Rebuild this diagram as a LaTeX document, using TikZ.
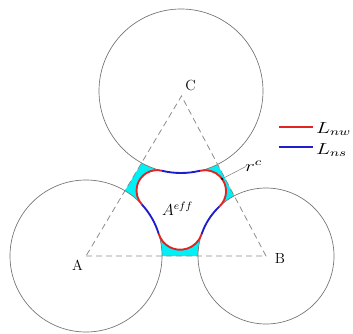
\documentclass[tikz,border=0pt]{standalone}
\usepackage{tikz}
\usepackage{graphicx}
% corner disk tangent to two grains: #1 prefix, #2,#3 centre 1, #4 R1, #5,#6 centre 2, #7 R2, #8 corner radius
\newcommand\cornerpt[8]{%
  \pgfmathsetmacro\cpdx{#5-#2}%
  \pgfmathsetmacro\cpdy{#6-#3}%
  \pgfmathsetmacro\cpD{sqrt(\cpdx*\cpdx+\cpdy*\cpdy)}%
  \pgfmathsetmacro\cpda{#4+#8}%
  \pgfmathsetmacro\cpdb{#7+#8}%
  \pgfmathsetmacro\cpa{(\cpda*\cpda-\cpdb*\cpdb+\cpD*\cpD)/(2*\cpD)}%
  \pgfmathsetmacro\cph{sqrt(\cpda*\cpda-\cpa*\cpa)}%
  \pgfmathsetmacro\cpux{\cpdx/\cpD}%
  \pgfmathsetmacro\cpuy{\cpdy/\cpD}%
  \pgfmathsetmacro\cpx{#2+\cpa*\cpux-\cph*\cpuy}%
  \pgfmathsetmacro\cpy{#3+\cpa*\cpuy+\cph*\cpux}%
  \pgfmathsetmacro\cps{atan2(#3-\cpy,#2-\cpx)}%
  \pgfmathsetmacro\cpe{atan2(#6-\cpy,#5-\cpx)}%
  \pgfmathsetmacro\cpE{\cps+mod(\cpe-\cps+720,360)}%
  \expandafter\let\csname #1x\endcsname\cpx
  \expandafter\let\csname #1y\endcsname\cpy
  \expandafter\let\csname #1s\endcsname\cps
  \expandafter\let\csname #1e\endcsname\cpE
  \expandafter\let\csname #1p\endcsname\cpe
  \expandafter\def\csname #1r\endcsname{#8}%
}
\cornerpt{zab}{0.86}{0.77}{0.76}{2.66}{0.77}{0.68}{0.225}
\cornerpt{zbc}{2.66}{0.77}{0.68}{1.81}{2.42}{0.82}{0.21}
\cornerpt{zca}{1.81}{2.42}{0.82}{0.86}{0.77}{0.76}{0.205}
\pgfmathsetmacro\gbs{\zabp+180}
\pgfmathsetmacro\gbe{\gbs-mod(\gbs-\zbcs-180+720,360)}
\pgfmathsetmacro\gcs{\zbcp+180}
\pgfmathsetmacro\gce{\gcs-mod(\gcs-\zcas-180+720,360)}
\pgfmathsetmacro\gas{\zcap+180}
\pgfmathsetmacro\gae{\gas-mod(\gas-\zabs-180+720,360)}
\newcommand\widemath[1]{\scalebox{1.32}[1]{$#1$}}
\definecolor{poreCyan}{RGB}{0,240,245}
\definecolor{nwRed}{RGB}{225,35,35}
\definecolor{nsBlue}{RGB}{30,30,205}
\tikzset{
  grain/.style={draw=black!55, line width=0.5pt, fill=white},
  tri/.style={draw=black!45, line width=0.6pt, dash pattern=on 4.5pt off 3pt},
  nwline/.style={draw=nwRed, line width=1.4pt},
  nsline/.style={draw=nsBlue, line width=1.4pt},
  lbl/.style={inner sep=1pt, font=\fontsize{11}{13}\selectfont},
  mlbl/.style={inner sep=1pt, font=\fontsize{12}{14}\selectfont}
}
\begin{document}
\begin{tikzpicture}[x=75pt,y=75pt]
\useasboundingbox (0,0) rectangle (3.53,3.33);
\coordinate (cA) at (0.86,0.77);
\coordinate (cB) at (2.66,0.77);
\coordinate (cC) at (1.81,2.42);
\coordinate (tC) at (1.815,2.37);
\coordinate (zab) at (\zabx,\zaby);
\coordinate (zbc) at (\zbcx,\zbcy);
\coordinate (zca) at (\zcax,\zcay);
% pore space
\fill[poreCyan] (cA) -- (cB) -- (tC) -- cycle;
% grains
\path[grain] (cA) circle[radius=0.76];
\path[grain] (cB) circle[radius=0.68];
\path[grain] (cC) circle[radius=0.82];
% effective area
\fill[white] ([shift={(\zabs:\zabr)}]zab) arc[start angle=\zabs, end angle=\zabe, radius=\zabr]
  arc[start angle=\gbs, end angle=\gbe, radius=0.68]
  arc[start angle=\zbcs, end angle=\zbce, radius=\zbcr]
  arc[start angle=\gcs, end angle=\gce, radius=0.82]
  arc[start angle=\zcas, end angle=\zcae, radius=\zcar]
  arc[start angle=\gas, end angle=\gae, radius=0.76] -- cycle;
% interfaces
\draw[nsline] ([shift={(\gbs:0.68)}]cB) arc[start angle=\gbs, end angle=\gbe, radius=0.68];
\draw[nsline] ([shift={(\gcs:0.82)}]cC) arc[start angle=\gcs, end angle=\gce, radius=0.82];
\draw[nsline] ([shift={(\gas:0.76)}]cA) arc[start angle=\gas, end angle=\gae, radius=0.76];
\draw[nwline] ([shift={(\zabs:\zabr)}]zab) arc[start angle=\zabs, end angle=\zabe, radius=\zabr];
\draw[nwline] ([shift={(\zbcs:\zbcr)}]zbc) arc[start angle=\zbcs, end angle=\zbce, radius=\zbcr];
\draw[nwline] ([shift={(\zcas:\zcar)}]zca) arc[start angle=\zcas, end angle=\zcae, radius=\zcar];
% triangle
\draw[tri] (cA) -- (cB) -- (tC) -- cycle;
% labels
\node[lbl] (lA) at (0.775,0.68) {A};
\node[lbl] (lB) at (2.80,0.745) {B};
\node[lbl] (lC) at (1.905,2.48) {C};
\node[mlbl] (aeff) at (1.775,1.24) {$A^{eff}$};
\node[mlbl, anchor=base west] (rc) at (2.435,1.613) {\widemath{r^{c}}};
\coordinate (rcdot) at ([shift={(36:\zbcr)}]zbc);
\draw[black!50, line width=0.4pt] ([shift={(0.02,0.05)}]rc.base west) -- (rcdot);
\fill[black] (rcdot) circle[radius=0.012];
% legend
\coordinate (nwa) at (2.79,2.057);
\coordinate (nwb) at (3.13,2.057);
\coordinate (nsa) at (2.79,1.863);
\coordinate (nsb) at (3.13,1.863);
\draw[nwline] (nwa) -- (nwb);
\draw[nsline] (nsa) -- (nsb);
\node[mlbl, anchor=base west] (lnw) at (3.145,1.995) {\widemath{L_{nw}}};
\node[mlbl, anchor=base west] (lns) at (3.145,1.79) {\widemath{L_{ns}}};
\end{tikzpicture}
\end{document}
